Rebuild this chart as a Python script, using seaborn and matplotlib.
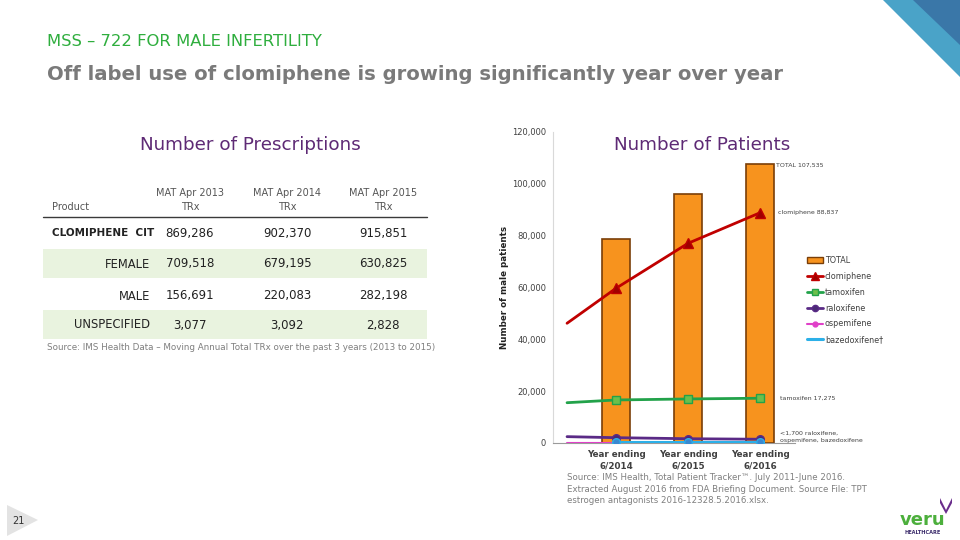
import numpy as np
import pandas as pd
import matplotlib
matplotlib.use("Agg")
import matplotlib.pyplot as plt
from matplotlib.patches import Polygon, Patch
from matplotlib.lines import Line2D
import seaborn as sns

# ---------------- data ----------------
products = ["CLOMIPHENE  CIT", "FEMALE", "MALE", "UNSPECIFIED"]
mat_2013 = [869286, 709518, 156691, 3077]
mat_2014 = [902370, 679195, 220083, 3092]
mat_2015 = [915851, 630825, 282198, 2828]
table_headers = ["MAT Apr 2013\nTRx", "MAT Apr 2014\nTRx", "MAT Apr 2015\nTRx"]

periods = ["Year ending\n6/2014", "Year ending\n6/2015", "Year ending\n6/2016"]
total = [78600, 96100, 107535]
# first value = series start (left of first period), then the three periods
clomiphene = [46200, 59700, 77050, 88837]
tamoxifen = [15550, 16600, 17000, 17275]
raloxifene = [2450, 2050, 1650, 1450]
ospemifene = [150, 150, 150, 150]
bazedoxifene = [np.nan, 350, 350, 350]
y_ticks = [0, 20000, 40000, 60000, 80000, 100000, 120000]

# ---------------- setup ----------------
sns.set_theme(style="white")
plt.rcParams["font.family"] = ["DejaVu Sans"]

W, H = 960, 540
fig = plt.figure(figsize=(9.6, 5.4), dpi=100)
fig.patch.set_facecolor("white")


def fx(x):
    return x / W


def fy(y):
    return 1 - y / H


def ftext(x, y, s, **kw):
    fig.text(fx(x), fy(y), s, **kw)


# decorative corner shapes
deco = fig.add_axes([0, 0, 1, 1], zorder=-5)
deco.set_xlim(0, W)
deco.set_ylim(H, 0)
deco.axis("off")
deco.add_patch(Polygon([(883, 0), (960, 0), (960, 77)], closed=True, color="#4aa3c8", lw=0))
deco.add_patch(Polygon([(913, 0), (960, 0), (960, 45)], closed=True, color="#3a77a8", lw=0))
deco.add_patch(Polygon([(7, 505), (38, 520), (7, 536)], closed=True, color="#e3e3e3", lw=0))
deco.add_patch(Polygon([(940, 498), (946, 510), (952, 498), (952, 503), (946, 514), (940, 503)],
                       closed=True, color="#6a2d8c", lw=0))

# titles
ftext(47, 42, "MSS – 722 FOR MALE INFERTILITY", fontsize=11.8, color="#2fae3e",
      ha="left", va="center")
ftext(47, 74, "Off label use of clomiphene is growing significantly year over year",
      fontsize=14.1, color="#7a7a7a", fontweight="bold", ha="left", va="center")

purple = "#5e2a75"
ftext(250, 145, "Number of Prescriptions", fontsize=13.2, color=purple, ha="center", va="center")
ftext(702, 145, "Number of Patients", fontsize=13.2, color=purple, ha="center", va="center")

# ---------------- table ----------------
tab = fig.add_axes([0, 0, 1, 1], zorder=-1)
tab.set_xlim(0, W)
tab.set_ylim(H, 0)
tab.axis("off")
row_y = [233, 264, 296, 325]
band_rows = [1, 3]
for r in band_rows:
    tab.add_patch(plt.Rectangle((43, row_y[r] - 15), 384, 29, color="#e9f3df", lw=0))
tab.plot([43, 427], [217, 217], color="#3a3a3a", lw=1)

col_x = [190, 287, 383]
ftext(52, 207, "Product", fontsize=7, color="#555555", ha="left", va="center")
for cx, h in zip(col_x, table_headers):
    ftext(cx, 200, h, fontsize=7, color="#555555", ha="center", va="center",
          linespacing=1.5)

cols = [mat_2013, mat_2014, mat_2015]
for i, p in enumerate(products):
    if i == 0:
        ftext(52, row_y[i], p, fontsize=7.5, fontweight="bold", color="#222222",
              ha="left", va="center")
    else:
        ftext(150, row_y[i], p, fontsize=8.3, color="#222222", ha="right", va="center")
    for cx, col in zip(col_x, cols):
        ftext(cx, row_y[i], f"{col[i]:,}", fontsize=8.5, color="#222222",
              ha="center", va="center")

ftext(47, 348, "Source: IMS Health Data – Moving Annual Total TRx over the past 3 years (2013 to 2015)",
      fontsize=6.3, color="#7f7f7f", ha="left", va="center")

# ---------------- chart ----------------
ax = fig.add_axes([fx(553), fy(443), fx(795 - 553), (443 - 132) / H])
ax.set_facecolor("none")

bar_df = pd.DataFrame({"period": periods, "total": total})
sns.barplot(data=bar_df, x="period", y="total", ax=ax, color="#f7931e",
            width=0.38, edgecolor="#7a3e08", linewidth=1.2, saturation=1, zorder=2)

pos = np.arange(len(periods))
line_start_offset = -0.68
line_x = np.concatenate([[line_start_offset], pos])

series = [
    ("clomiphene", clomiphene, "#c00000", "^", "#a00000", 2.0, 6.5),
    ("tamoxifen", tamoxifen, "#22a24a", "s", "#6dbf4a", 2.0, 5.5),
    ("raloxifene", raloxifene, "#5a2a86", "o", "#4a2a76", 2.0, 5.5),
    ("ospemifene", ospemifene, "#e040c8", "o", "#e040c8", 1.5, 4.5),
    ("bazedoxifene", bazedoxifene, "#2cb0e8", "o", "#3a88d0", 2.2, 5.5),
]
for name, vals, c, m, mc, lw, ms in series:
    d = pd.DataFrame({"x": line_x, "y": vals}).dropna()
    sns.lineplot(data=d, x="x", y="y", ax=ax, color=c, lw=lw, zorder=4, legend=False,
                 estimator=None, sort=False)
    dm = d[d["x"] >= 0]
    ax.plot(dm["x"], dm["y"], ls="none", marker=m, ms=ms, mfc=mc, mec=c, zorder=5)

ax.set_xlim(-0.875, 2.486)
ax.set_ylim(0, 120000)
ax.set_yticks(y_ticks)
ax.set_yticklabels([f"{v:,}" for v in y_ticks], fontsize=6, color="#404040")
ax.set_xticks(pos)
ax.set_xticklabels(periods, fontsize=6.3, color="#404040", fontweight="bold", linespacing=1.3)
ax.tick_params(axis="both", length=0, pad=5)
ax.set_xlabel("")
ax.set_ylabel("Number of male patients", fontsize=6.3, fontweight="bold", color="#222222",
              labelpad=2)
for s in ["top", "right"]:
    ax.spines[s].set_visible(False)
ax.spines["left"].set_color("#d9d9d9")
ax.spines["bottom"].set_color("#9a9a9a")
ax.spines["left"].set_linewidth(0.8)
ax.spines["bottom"].set_linewidth(0.8)
ax.grid(False)

# annotations
ftext(776, 165, "TOTAL 107,535", fontsize=4.5, color="#404040", ha="left", va="center")
ftext(778, 213, "clomiphene 88,837", fontsize=4.5, color="#404040", ha="left", va="center")
ftext(780, 398, "tamoxifen 17,275", fontsize=4.5, color="#404040", ha="left", va="center")
ftext(780, 437, "<1,700 raloxifene,\nospemifene, bazedoxifene", fontsize=4.5, color="#404040",
      ha="left", va="center", linespacing=1.4)

# legend
handles = [Patch(facecolor="#f7931e", edgecolor="#7a3e08", label="TOTAL")]
for name, vals, c, m, mc, lw, ms in series:
    if name == "bazedoxifene":
        handles.append(Line2D([], [], color=c, lw=lw, label=name + "\u2020"))
    else:
        handles.append(Line2D([], [], color=c, lw=lw, marker=m, ms=ms - 1, mfc=mc, mec=c,
                              label=name))
leg = fig.legend(handles=handles, loc="upper left", bbox_to_anchor=(fx(803), fy(252)),
                 frameon=False, fontsize=5.8, handlelength=2.0, handletextpad=0.2,
                 labelspacing=0.85, borderpad=0)
for t in leg.get_texts():
    t.set_color("#404040")

# bottom source
ftext(567, 489, "Source: IMS Health, Total Patient Tracker\u2122. July 2011-June 2016.\n"
      "Extracted August 2016 from FDA Briefing Document. Source File: TPT\n"
      "estrogen antagonists 2016-12328.5.2016.xlsx.",
      fontsize=6.2, color="#7f7f7f", ha="left", va="center", linespacing=1.35)

# page number and logo
ftext(18, 521, "21", fontsize=7, color="#333333", ha="center", va="center")
ftext(923, 520, "veru", fontsize=13, color="#4caf3c", fontweight="bold", ha="center",
      va="center")
ftext(923, 532, "HEALTHCARE", fontsize=3.6, color="#3a2a6a", fontweight="bold",
      ha="center", va="center")

fig.savefig("out.png", dpi=100, facecolor="white")
